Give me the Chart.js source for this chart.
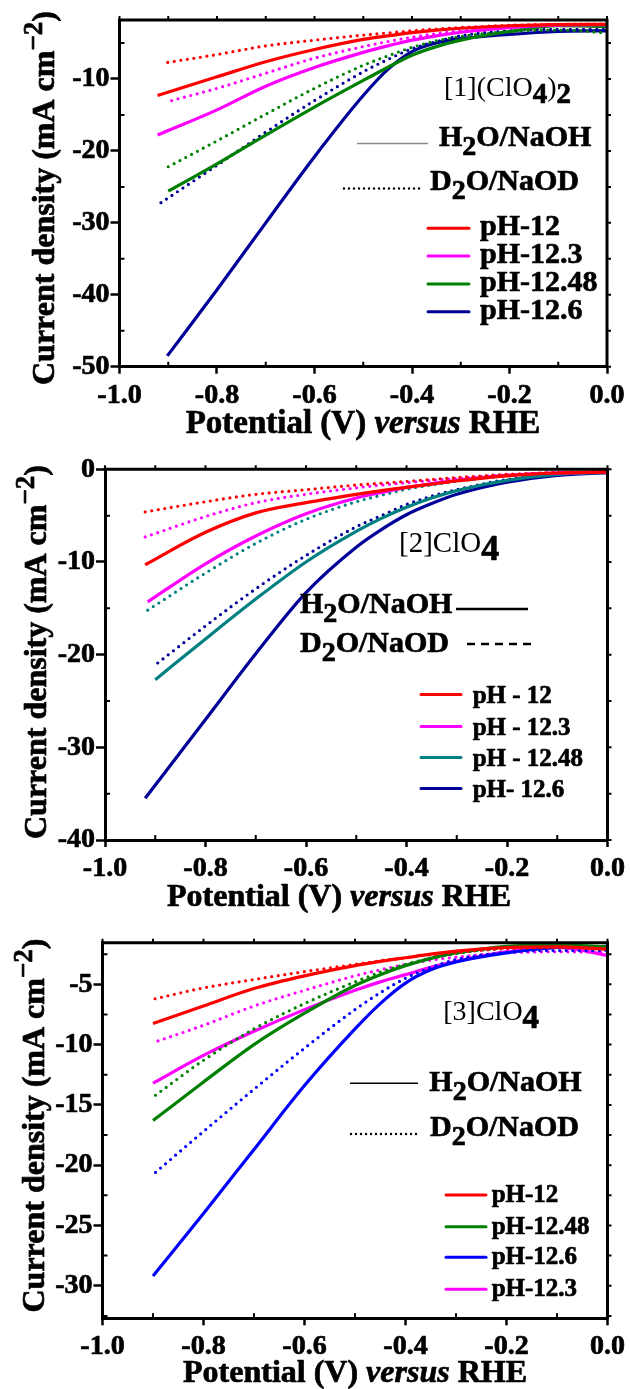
<!DOCTYPE html>
<html>
<head>
<meta charset="utf-8">
<script src="https://cdn.jsdelivr.net/npm/chart.js@4.4.0/dist/chart.umd.min.js"></script>
<style>
  html, body { margin: 0; padding: 0; background: #fff; }
  body { width: 630px; height: 1389px; position: relative; overflow: hidden; }
  canvas { position: absolute; left: 0; }
</style>
</head>
<body>
<canvas id="c1" width="630" height="450" style="top:0px"></canvas>
<canvas id="c2" width="630" height="470" style="top:450px"></canvas>
<canvas id="c3" width="630" height="469" style="top:920px"></canvas>
<script>
const SERIF = '"Liberation Serif", "Times New Roman", serif';

// potentials (V vs RHE) after each curve's own starting point
const potential = [-0.8, -0.7, -0.6, -0.5, -0.45, -0.4, -0.35, -0.3, -0.2, -0.1, 0];
const xTicks = [-1.0, -0.8, -0.6, -0.4, -0.2, 0.0];

// ---- [1](ClO4)2
const p1Labels = ["pH-12", "pH-12.3", "pH-12.48", "pH-12.6"];
const p1Colors = ["#ff0000", "#ff00ff", "#008000", "#000099"];
const p1YTicks = [-50, -40, -30, -20, -10];
const p1StartH2O = [-0.922, -0.922, -0.9, -0.902];
const p1H2O = [
  [-12.3, -9.7, -7.6, -5.9, -4.5, -4.0, -3.55, -3.2, -2.95, -2.6, -2.45, -2.4],
  [-17.8, -14.3, -11.0, -8.4, -6.3, -5.4, -4.6, -4.0, -3.5, -2.85, -2.5, -2.45],
  [-25.6, -21.8, -17.8, -13.9, -10.2, -8.4, -6.7, -5.5, -4.6, -3.4, -2.6, -2.7],
  [-48.5, -39.3, -30.0, -20.8, -12.3, -8.7, -6.2, -5.0, -4.4, -3.8, -3.4, -3.3]
];
const p1StartD2O = [-0.901, -0.893, -0.9, -0.915];
const p1D2O = [
  [-7.7, -6.6, -5.4, -4.6, -3.9, -3.6, -3.3, -3.05, -2.85, -2.55, -2.4, -2.35],
  [-13.0, -11.3, -9.2, -7.1, -5.5, -4.8, -4.2, -3.7, -3.3, -2.75, -2.5, -2.45],
  [-22.2, -18.6, -14.9, -11.3, -8.1, -6.8, -5.6, -4.7, -4.1, -3.4, -3.2, -3.6],
  [-27.2, -22.0, -17.4, -13.0, -9.0, -7.3, -5.8, -4.8, -4.0, -3.3, -3.1, -3.1]
];

// ---- [2]ClO4
const p2Labels = ["pH - 12", "pH - 12.3", "pH - 12.48", "pH- 12.6"];
const p2Colors = ["#ff0000", "#ff00ff", "#008080", "#000099"];
const p2YTicks = [-40, -30, -20, -10, 0];
const p2StartH2O = [-0.92, -0.915, -0.9, -0.92];
const p2H2O = [
  [-10.3, -6.8, -4.7, -3.6, -2.7, -2.3, -1.95, -1.6, -1.25, -0.7, -0.4, -0.3],
  [-14.3, -10.2, -7.2, -4.8, -3.1, -2.5, -1.95, -1.55, -1.2, -0.65, -0.4, -0.3],
  [-22.7, -18.3, -14.0, -10.0, -6.7, -5.3, -4.1, -3.1, -2.3, -1.2, -0.55, -0.3],
  [-35.5, -27.0, -19.9, -13.3, -8.4, -6.5, -4.9, -3.7, -2.7, -1.4, -0.65, -0.35]
];
const p2StartD2O = [-0.92, -0.92, -0.915, -0.895];
const p2D2O = [
  [-4.6, -3.5, -2.7, -2.2, -1.7, -1.5, -1.3, -1.1, -0.9, -0.55, -0.35, -0.25],
  [-7.3, -5.1, -3.6, -2.7, -2.0, -1.7, -1.45, -1.2, -1.0, -0.6, -0.35, -0.25],
  [-15.2, -11.2, -8.0, -5.4, -3.5, -2.8, -2.15, -1.7, -1.3, -0.7, -0.4, -0.3],
  [-20.9, -16.9, -12.9, -9.3, -6.2, -5.0, -3.8, -2.9, -2.2, -1.1, -0.5, -0.3]
];

// ---- [3]ClO4 (legend order of the original)
const p3Labels = ["pH-12", "pH-12.48", "pH-12.6", "pH-12.3"];
const p3Colors = ["#ff0000", "#008000", "#0000ff", "#ff00ff"];
const p3YTicks = [-30, -25, -20, -15, -10, -5];
const p3StartH2O = [-0.9, -0.9, -0.9, -0.9];
const p3H2O = [
  [-8.25, -6.8, -5.35, -4.3, -3.45, -3.1, -2.8, -2.5, -2.25, -1.95, -1.9, -2.1],
  [-16.3, -13.1, -10.0, -7.4, -5.1, -4.2, -3.45, -2.85, -2.4, -1.85, -1.75, -1.9],
  [-29.2, -24.0, -18.7, -13.4, -8.7, -6.6, -4.9, -3.8, -3.15, -2.4, -1.95, -1.85],
  [-13.2, -10.9, -8.9, -7.1, -5.5, -4.8, -4.2, -3.6, -3.1, -2.3, -1.95, -2.6]
];
const p3StartD2O = [-0.896, -0.895, -0.895, -0.89];
const p3D2O = [
  [-6.2, -5.3, -4.6, -3.95, -3.35, -3.05, -2.8, -2.55, -2.35, -2.05, -1.95, -2.0],
  [-14.2, -11.3, -8.7, -6.6, -4.8, -4.0, -3.35, -2.85, -2.45, -1.95, -1.8, -2.0],
  [-20.6, -17.2, -13.7, -10.3, -7.1, -5.7, -4.5, -3.6, -2.95, -2.35, -2.2, -2.2],
  [-9.7, -8.4, -6.8, -5.5, -4.3, -3.8, -3.35, -3.0, -2.75, -2.4, -2.3, -2.35]
];

function toPoints(start, vals) {
  return [{ x: start, y: vals[0] }].concat(potential.map((v, k) => ({ x: v, y: vals[k + 1] })));
}

// draws text pieces one after another; a light stroke makes the type as heavy as the scan
function drawParts(ctx, x, y, parts) {
  let cx = x;
  for (const p of parts) {
    ctx.font = p.font;
    ctx.fillText(p.text, cx, y + (p.dy || 0));
    if (p.heavy !== false) ctx.strokeText(p.text, cx, y + (p.dy || 0));
    cx += ctx.measureText(p.text).width;
  }
}
function partsWidth(ctx, parts) {
  let w = 0;
  for (const p of parts) { ctx.font = p.font; w += ctx.measureText(p.text).width; }
  return w;
}
const bold = s => `bold ${s}px ${SERIF}`;
const plain = s => `${s}px ${SERIF}`;

function makeDecor(p) {
  return {
    id: 'decor',
    afterDraw(chart) {
      const ctx = chart.ctx, a = chart.chartArea;
      const sx = chart.scales.x, sy = chart.scales.y;
      ctx.save();
      ctx.strokeStyle = '#000';
      ctx.fillStyle = '#000';
      // frame top + right
      ctx.lineWidth = 3;
      ctx.beginPath();
      ctx.moveTo(a.left - 1.5, a.top);
      ctx.lineTo(a.right, a.top);
      ctx.lineTo(a.right, a.bottom + 1.5);
      ctx.stroke();
      // small ticks
      ctx.lineWidth = 2;
      ctx.beginPath();
      for (let i = 0; i <= 10; i++) {
        const px = sx.getPixelForValue(-1 + i / 10);
        ctx.moveTo(px, a.top); ctx.lineTo(px, a.top - 4);
        if (i % 2) { ctx.moveTo(px, a.bottom); ctx.lineTo(px, a.bottom - 5); }
      }
      const n0 = Math.ceil(sy.min / p.yMinor - 1e-9), n1 = Math.floor(sy.max / p.yMinor + 1e-9);
      for (let k = n0; k <= n1; k++) {
        const v = k * p.yMinor, py = sy.getPixelForValue(v);
        ctx.moveTo(a.right, py); ctx.lineTo(a.right + 4, py);
        if (!p.yTicks.some(t => Math.abs(t - v) < 1e-6)) { ctx.moveTo(a.left, py); ctx.lineTo(a.left + 5, py); }
      }
      ctx.stroke();

      ctx.textAlign = 'left';
      ctx.textBaseline = 'alphabetic';
      ctx.lineWidth = 0.7;
      ctx.lineJoin = 'round';
      // y title
      const yParts = [
        { text: 'Current density (mA cm', font: bold(32) },
        { text: '\u22122', font: bold(27), dy: -12 },
        { text: ')', font: bold(32) }
      ];
      ctx.save();
      ctx.translate(p.yTitle[0], p.yTitle[1]);
      ctx.rotate(-Math.PI / 2);
      drawParts(ctx, -partsWidth(ctx, yParts) / 2, 0, yParts);
      ctx.restore();
      // x title
      const fs = p.xTitle[2];
      const xParts = [
        { text: 'Potential (V) ', font: bold(fs) },
        { text: 'versus', font: `italic bold ${fs}px ${SERIF}` },
        { text: ' RHE', font: bold(fs) }
      ];
      drawParts(ctx, p.xTitle[0] - partsWidth(ctx, xParts) / 2, p.xTitle[1], xParts);

      // compound name
      drawParts(ctx, p.name.x, p.name.y, p.name.parts);

      // solvent key
      for (const s of p.solvents) {
        ctx.save();
        ctx.strokeStyle = s.color;
        ctx.lineWidth = s.width;
        ctx.lineCap = s.dash ? 'round' : 'butt';
        if (s.dash) ctx.setLineDash(s.dash);
        if (s.dash && s.dash[0] > 1) ctx.lineCap = 'butt';
        ctx.beginPath();
        ctx.moveTo(s.x1, s.ly); ctx.lineTo(s.x2, s.ly);
        ctx.stroke();
        ctx.restore();
        drawParts(ctx, s.tx, s.ty, [
          { text: s.text[0], font: bold(30) },
          { text: '2', font: bold(28), dy: 9 },
          { text: s.text[1], font: bold(30) }
        ]);
      }

      // pH key
      const k = p.key;
      k.ys.forEach((ly, i) => {
        ctx.save();
        ctx.strokeStyle = p.colors[i];
        ctx.lineWidth = 3;
        ctx.lineCap = 'round';
        ctx.beginPath();
        ctx.moveTo(k.x1, ly); ctx.lineTo(k.x2, ly);
        ctx.stroke();
        ctx.restore();
        drawParts(ctx, k.tx, ly + k.off, [{ text: p.labels[i], font: bold(k.size) }]);
      });
      ctx.restore();
    }
  };
}

function lvChart(id, p) {
  const H = document.getElementById(id).height;
  const datasets = [];
  p.labels.forEach((lab, i) => {
    datasets.push({
      label: lab + ' H2O/NaOH', data: toPoints(p.startH2O[i], p.h2o[i]),
      borderColor: p.colors[i], borderWidth: 3.2
    });
    datasets.push({
      label: lab + ' D2O/NaOD', data: toPoints(p.startD2O[i], p.d2o[i]),
      borderColor: p.colors[i], borderWidth: 3.2, borderDash: [0, 6.6], borderCapStyle: 'round'
    });
  });
  const tickFont = { family: SERIF, size: 28, weight: 'bold' };
  new Chart(id, {
    type: 'line',
    data: { datasets },
    options: {
      responsive: false,
      animation: false,
      devicePixelRatio: 1,
      events: [],
      elements: { point: { radius: 0 }, line: { cubicInterpolationMode: 'monotone', fill: false } },
      layout: { padding: { left: 0, top: p.area.top, right: 630 - p.area.right, bottom: 0 } },
      plugins: { legend: { display: false }, tooltip: { enabled: false } },
      scales: {
        x: {
          type: 'linear', min: -1, max: 0,
          afterBuildTicks: s => { s.ticks = xTicks.map(v => ({ value: v })); },
          afterFit: s => { s.height = H - p.area.bottom; },
          ticks: { callback: v => v.toFixed(1), font: tickFont, color: '#000', padding: 5, maxRotation: 0, autoSkip: false,
                   textStrokeColor: '#000', textStrokeWidth: 0.7 },
          grid: { drawOnChartArea: false, drawTicks: true, tickLength: 7, tickWidth: 2.5, tickColor: '#000', color: '#000' },
          border: { display: true, color: '#000', width: 3 }
        },
        y: {
          type: 'linear', min: p.yMin, max: p.yMax,
          afterBuildTicks: s => { s.ticks = p.yTicks.map(v => ({ value: v })); },
          afterFit: s => { s.width = p.area.left; },
          ticks: { callback: v => String(v), font: tickFont, color: '#000', padding: 1, autoSkip: false,
                   textStrokeColor: '#000', textStrokeWidth: 0.7 },
          grid: { drawOnChartArea: false, drawTicks: true, tickLength: 9, tickWidth: 2.5, tickColor: '#000', color: '#000' },
          border: { display: true, color: '#000', width: 3 }
        }
      }
    },
    plugins: [makeDecor(p)]
  });
}

lvChart('c1', {
  labels: p1Labels, colors: p1Colors, yTicks: p1YTicks,
  startH2O: p1StartH2O, h2o: p1H2O, startD2O: p1StartD2O, d2o: p1D2O,
  yMin: -50, yMax: -1.8, yMinor: 5,
  area: { left: 119.5, right: 607, top: 20, bottom: 366.7 },
  yTitle: [54, 198], xTitle: [363, 433, 33],
  name: { x: 444, y: 96, parts: [
    { text: '[1](ClO', font: plain(28), heavy: false },
    { text: '4', font: bold(29), dy: 7 },
    { text: ')', font: plain(28), heavy: false },
    { text: '2', font: bold(29), dy: 7 }
  ] },
  solvents: [
    { x1: 357, x2: 428, ly: 143.5, color: '#8a8a8a', width: 1.6, tx: 439, ty: 146, text: ['H', 'O/NaOH'] },
    { x1: 344, x2: 422, ly: 188.5, color: '#000', width: 2.4, dash: [0, 5], tx: 430, ty: 190, text: ['D', 'O/NaOD'] }
  ],
  key: { x1: 428, x2: 469, ys: [228.3, 256, 284, 311.7], tx: 480, off: 7, size: 30 }
});

lvChart('c2', {
  labels: p2Labels, colors: p2Colors, yTicks: p2YTicks,
  startH2O: p2StartH2O, h2o: p2H2O, startD2O: p2StartD2O, d2o: p2D2O,
  yMin: -40, yMax: 0, yMinor: 5,
  area: { left: 105, right: 608.5, top: 19.3, bottom: 390 },
  yTitle: [46, 202], xTitle: [339, 456, 32],
  name: { x: 399, y: 101.7, parts: [
    { text: '[2]ClO', font: plain(29), heavy: false },
    { text: '4', font: bold(36), dy: 8 }
  ] },
  solvents: [
    { x1: 456, x2: 528, ly: 159, color: '#000', width: 2.7, tx: 300, ty: 163.3, text: ['H', 'O/NaOH'] },
    { x1: 467, x2: 531, ly: 194, color: '#000', width: 2.7, dash: [8, 6], tx: 300, ty: 201.7, text: ['D', 'O/NaOD'] }
  ],
  key: { x1: 421, x2: 461, ys: [244.5, 276.5, 307.5, 338.5], tx: 472.7, off: 8, size: 25 }
});

lvChart('c3', {
  labels: p3Labels, colors: p3Colors, yTicks: p3YTicks,
  startH2O: p3StartH2O, h2o: p3H2O, startD2O: p3StartD2O, d2o: p3D2O,
  yMin: -32.7, yMax: -1.55, yMinor: 2.5,
  area: { left: 102.5, right: 609, top: 22.7, bottom: 398.3 },
  yTitle: [44, 205.5], xTitle: [355, 461.7, 32],
  name: { x: 443.3, y: 100, parts: [
    { text: '[3]ClO', font: plain(28), heavy: false },
    { text: '4', font: bold(33), dy: 8 }
  ] },
  solvents: [
    { x1: 350, x2: 418, ly: 163.3, color: '#000', width: 1.5, tx: 429.3, ty: 170.7, text: ['H', 'O/NaOH'] },
    { x1: 351, x2: 420, ly: 214, color: '#000', width: 2.4, dash: [0, 5], tx: 430, ty: 216, text: ['D', 'O/NaOD'] }
  ],
  key: { x1: 446, x2: 486, ys: [275, 306.7, 337.3, 369.3], tx: 491.7, off: 7, size: 25 }
});
</script>
</body>
</html>
